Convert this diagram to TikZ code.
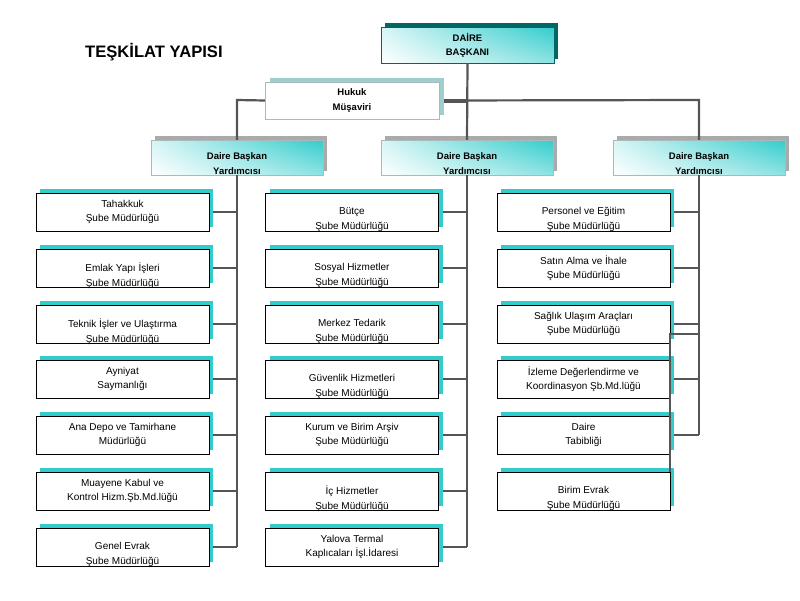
\documentclass[tikz,border=0pt]{standalone}
\usepackage{fontspec}
\setmainfont{Liberation Sans}
\usetikzlibrary{positioning,shadows,shadings}
\definecolor{tealc}{RGB}{51,204,204}
\definecolor{darkteal}{RGB}{0,102,102}
\definecolor{paleteal}{RGB}{160,205,205}
\definecolor{shadegray}{RGB}{170,170,170}
\definecolor{linegray}{RGB}{85,85,85}
\definecolor{edgegray}{RGB}{170,185,185}
\tikzstyle{unit} = [draw=black,fill=white,minimum width=173pt,minimum height=38pt,inner sep=0pt,
  general shadow={fill=tealc,shadow xshift=4pt,shadow yshift=4pt}]
\tikzstyle{deputy} = [draw=edgegray,lower left=white,upper left=tealc!20,lower right=tealc!55,upper right=tealc,
  minimum width=172pt,minimum height=35pt,inner sep=0pt,
  general shadow={fill=shadegray,shadow xshift=4pt,shadow yshift=4pt}]
\tikzstyle{chief} = [draw=darkteal,lower left=white,upper left=tealc!20,lower right=tealc!55,upper right=tealc,
  minimum width=173pt,minimum height=36pt,inner sep=0pt,
  general shadow={fill=darkteal,shadow xshift=4pt,shadow yshift=4pt}]
\tikzstyle{advisor} = [draw=edgegray,fill=white,minimum width=174pt,minimum height=37pt,inner sep=0pt,
  general shadow={fill=paleteal,shadow xshift=5pt,shadow yshift=4pt}]
\tikzstyle{txt} = [align=center,inner sep=0pt,font=\fontsize{10}{14.5}\selectfont]
\tikzstyle{head} = [align=center,inner sep=0pt,font=\bfseries\fontsize{9.5}{14.5}\selectfont]
\tikzstyle{link} = [draw=linegray,line width=2.2pt]

\begin{document}
\begin{tikzpicture}[x=1pt,y=-1pt]
    \useasboundingbox (0,0) rectangle (800,600);

    \node [anchor=west,inner sep=0pt,font=\bfseries\fontsize{16.6}{18}\selectfont] (title) at (85,52) {TEŞKİLAT YAPISI};

    % top of the chart
    \node [chief] (baskan) at (467.5,45) {};
    \node [head,font=\bfseries\fontsize{9.5}{14}\selectfont] (baskan-t) at (baskan) {DAİRE\\BAŞKANI};
    \node [advisor] (hukuk) at (352,100.5) {};
    \node [head] (hukuk-t) at (hukuk) {Hukuk\\Müşaviri};
    \node [deputy] (leftY) at (237,157.5) {};
    \node [head,yshift=-6pt] (leftY-t) at (leftY) {Daire Başkan\\Yardımcısı};
    \node [deputy] (midY) at (467,157.5) {};
    \node [head,yshift=-6pt] (midY-t) at (midY) {Daire Başkan\\Yardımcısı};
    \node [deputy] (rightY) at (699,157.5) {};
    \node [head,yshift=-6pt] (rightY-t) at (rightY) {Daire Başkan\\Yardımcısı};

    \coordinate (jl) at (237,100);
    \coordinate (jr) at (699,100);
    \draw [link] (baskan.south) -- (midY.north);
    \draw [link] (leftY.north) -- (jl) -- (hukuk.west);
    \draw [link] ([xshift=5pt]hukuk.east) -- (jr) -- (rightY.north);
    \draw [link,line width=4pt] ([xshift=5pt]hukuk.east) -- (hukuk.east -| baskan.south);

    % left column
    \node [unit] (tahakkuk) at (122.5,212) {};
    \node [txt] (tahakkuk-t) at (tahakkuk) {Tahakkuk\\Şube Müdürlüğü};
    \node [unit] (emlak) at (122.5,268) {};
    \node [txt,yshift=-7.5pt] (emlak-t) at (emlak) {Emlak Yapı İşleri\\Şube Müdürlüğü};
    \node [unit] (teknik) at (122.5,324) {};
    \node [txt,yshift=-7.5pt] (teknik-t) at (teknik) {Teknik İşler ve Ulaştırma\\Şube Müdürlüğü};
    \node [unit] (ayniyat) at (122.5,379) {};
    \node [txt] (ayniyat-t) at (ayniyat) {Ayniyat\\Saymanlığı};
    \node [unit] (depo) at (122.5,435) {};
    \node [txt] (depo-t) at (depo) {Ana Depo ve Tamirhane\\Müdürlüğü};
    \node [unit] (muayene) at (122.5,491) {};
    \node [txt] (muayene-t) at (muayene) {Muayene Kabul ve\\Kontrol Hizm.Şb.Md.lüğü};
    \node [unit] (genel) at (122.5,547) {};
    \node [txt,yshift=-7.5pt] (genel-t) at (genel) {Genel Evrak\\Şube Müdürlüğü};

    \draw [link] (leftY.south) -- (leftY.south |- genel.east);
    \draw [link] ([xshift=4pt]tahakkuk.east) -- (tahakkuk.east -| leftY.south);
    \draw [link] ([xshift=4pt]emlak.east) -- (emlak.east -| leftY.south);
    \draw [link] ([xshift=4pt]teknik.east) -- (teknik.east -| leftY.south);
    \draw [link] ([xshift=4pt]ayniyat.east) -- (ayniyat.east -| leftY.south);
    \draw [link] ([xshift=4pt]depo.east) -- (depo.east -| leftY.south);
    \draw [link] ([xshift=4pt]muayene.east) -- (muayene.east -| leftY.south);
    \draw [link] ([xshift=4pt]genel.east) -- (genel.east -| leftY.south);

    % middle column
    \node [unit] (butce) at (352,212) {};
    \node [txt,yshift=-7.5pt] (butce-t) at (butce) {Bütçe\\Şube Müdürlüğü};
    \node [unit] (sosyal) at (352,268) {};
    \node [txt,yshift=-7.5pt] (sosyal-t) at (sosyal) {Sosyal Hizmetler\\Şube Müdürlüğü};
    \node [unit] (tedarik) at (352,324) {};
    \node [txt,yshift=-7.5pt] (tedarik-t) at (tedarik) {Merkez Tedarik\\Şube Müdürlüğü};
    \node [unit] (guvenlik) at (352,379) {};
    \node [txt,yshift=-7.5pt] (guvenlik-t) at (guvenlik) {Güvenlik Hizmetleri\\Şube Müdürlüğü};
    \node [unit] (arsiv) at (352,435) {};
    \node [txt] (arsiv-t) at (arsiv) {Kurum ve Birim Arşiv\\Şube Müdürlüğü};
    \node [unit] (ichiz) at (352,491) {};
    \node [txt,yshift=-7.5pt] (ichiz-t) at (ichiz) {İç Hizmetler\\Şube Müdürlüğü};
    \node [unit] (yalova) at (352,547) {};
    \node [txt] (yalova-t) at (yalova) {Yalova Termal\\Kaplıcaları İşl.İdaresi};

    \draw [link] (midY.south) -- (midY.south |- yalova.east);
    \draw [link] ([xshift=4pt]butce.east) -- (butce.east -| midY.south);
    \draw [link] ([xshift=4pt]sosyal.east) -- (sosyal.east -| midY.south);
    \draw [link] ([xshift=4pt]tedarik.east) -- (tedarik.east -| midY.south);
    \draw [link] ([xshift=4pt]guvenlik.east) -- (guvenlik.east -| midY.south);
    \draw [link] ([xshift=4pt]arsiv.east) -- (arsiv.east -| midY.south);
    \draw [link] ([xshift=4pt]ichiz.east) -- (ichiz.east -| midY.south);
    \draw [link] ([xshift=4pt]yalova.east) -- (yalova.east -| midY.south);

    % right column
    \node [unit] (personel) at (583.5,212) {};
    \node [txt,yshift=-7.5pt] (personel-t) at (personel) {Personel ve Eğitim\\Şube Müdürlüğü};
    \node [unit] (satin) at (583.5,268) {};
    \node [txt] (satin-t) at (satin) {Satın Alma ve İhale\\Şube Müdürlüğü};
    \node [unit] (saglik) at (583.5,324) {};
    \node [txt] (saglik-t) at (saglik) {Sağlık Ulaşım Araçları\\Şube Müdürlüğü};
    \node [unit] (izleme) at (583.5,379) {};
    \node [txt] (izleme-t) at (izleme) {İzleme Değerlendirme ve\\Koordinasyon Şb.Md.lüğü};
    \node [unit] (tabip) at (583.5,435) {};
    \node [txt] (tabip-t) at (tabip) {Daire\\Tabibliği};
    \node [unit] (birim) at (583.5,491) {};
    \node [txt,yshift=-7.5pt] (birim-t) at (birim) {Birim Evrak\\Şube Müdürlüğü};

    \draw [link] (rightY.south) -- (rightY.south |- tabip.east);
    \draw [link] ([xshift=4pt]personel.east) -- (personel.east -| rightY.south);
    \draw [link] ([xshift=4pt]satin.east) -- (satin.east -| rightY.south);
    \draw [link] ([xshift=4pt]saglik.east) -- (saglik.east -| rightY.south);
    \draw [link] ([xshift=4pt]izleme.east) -- (izleme.east -| rightY.south);
    \draw [link] ([xshift=4pt]tabip.east) -- (tabip.east -| rightY.south);
    \draw [link] (birim.north east) |- ([yshift=-10pt]saglik.east -| rightY.south);
\end{tikzpicture}
\end{document}
